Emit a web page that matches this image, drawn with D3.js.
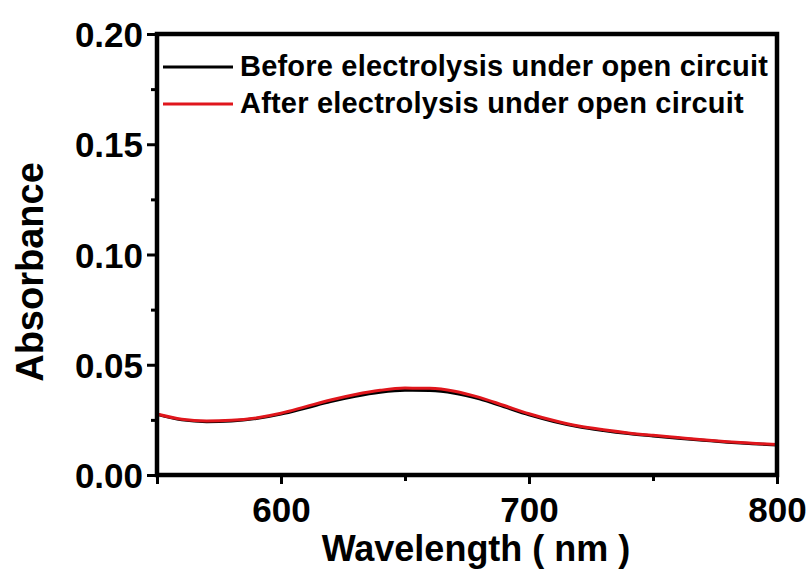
<!DOCTYPE html>
<html>
<head>
<meta charset="utf-8">
<script src="https://cdn.jsdelivr.net/npm/d3@7"></script>
<style>
  html, body { margin: 0; padding: 0; background: #fff; }
  svg { display: block; font-family: "Liberation Sans", Arial, sans-serif; font-weight: bold; }
</style>
</head>
<body>
<svg id="chart" width="812" height="572"></svg>
<script>
// UV-vis absorbance spectra, before and after electrolysis at open circuit
const wavelengths = [550, 560, 570, 580, 590, 600, 610, 620, 630, 640, 650, 660, 670,
                     680, 690, 700, 710, 720, 730, 740, 750, 760, 770, 780, 790, 800];
const beforeAbs = [0.0275, 0.0250, 0.0242, 0.0245, 0.0256, 0.0276, 0.0304, 0.0333, 0.0357,
                   0.0375, 0.0384, 0.0383, 0.0371, 0.0345, 0.0309, 0.0273, 0.0243, 0.0219,
                   0.0202, 0.0188, 0.0177, 0.0167, 0.0158, 0.0149, 0.0142, 0.0136];
const afterAbs = [0.0277, 0.0253, 0.0245, 0.0248, 0.0259, 0.0280, 0.0310, 0.0340, 0.0365,
                  0.0384, 0.0394, 0.0393, 0.0380, 0.0352, 0.0315, 0.0278, 0.0247, 0.0222,
                  0.0205, 0.0191, 0.0180, 0.0170, 0.0160, 0.0151, 0.0144, 0.0138];
const seriesNames = ["Before electrolysis under open circuit", "After electrolysis under open circuit"];
const seriesColors = ["#000000", "#e0161c"];
const xMajorTicks = [550, 600, 700, 800];
const xLabelTicks = [600, 700, 800];
const xMinorTicks = [650, 750];
const yMajorTicks = [0.00, 0.05, 0.10, 0.15, 0.20];
const yMinorTicks = [0.025, 0.075, 0.125, 0.175];
const xTitle = "Wavelength ( nm )";
const yTitle = "Absorbance";

const svg = d3.select("#chart");
const plot = { left: 157, right: 777, top: 34, bottom: 475 };

const x = d3.scaleLinear().domain([550, 800]).range([plot.left, plot.right]);
const y = d3.scaleLinear().domain([0, 0.20]).range([plot.bottom, plot.top]);

// curves
const series = [beforeAbs, afterAbs].map((vals, i) => ({
  name: seriesNames[i], color: seriesColors[i],
  points: wavelengths.map((w, j) => [w, vals[j]])
}));
const line = d3.line().x(d => x(d[0])).y(d => y(d[1])).curve(d3.curveMonotoneX);
svg.append("g").selectAll("path").data(series).join("path")
  .attr("d", d => line(d.points))
  .attr("fill", "none")
  .attr("stroke", d => d.color)
  .attr("stroke-width", 3)
  .attr("stroke-linejoin", "round");

// x axis (bottom), major with labels + minor
const xAxis = d3.axisBottom(x).tickValues(xMajorTicks).tickSize(9).tickPadding(13)
  .tickFormat(d => xLabelTicks.includes(d) ? d3.format("d")(d) : "");
const gx = svg.append("g").attr("transform", `translate(0,${plot.bottom})`).call(xAxis);
const gxm = svg.append("g").attr("transform", `translate(0,${plot.bottom})`)
  .call(d3.axisBottom(x).tickValues(xMinorTicks).tickSize(6).tickFormat(""));

// y axis (left)
const yAxis = d3.axisLeft(y).tickValues(yMajorTicks).tickSize(10).tickPadding(4)
  .tickFormat(d3.format(".2f"));
const gy = svg.append("g").attr("transform", `translate(${plot.left},0)`).call(yAxis);
const gym = svg.append("g").attr("transform", `translate(${plot.left},0)`)
  .call(d3.axisLeft(y).tickValues(yMinorTicks).tickSize(6).tickFormat(""));

[gx, gxm, gy, gym].forEach(g => {
  g.select(".domain").remove();
  g.selectAll(".tick line").attr("stroke", "#000").attr("stroke-width", 3);
  g.selectAll(".tick text").attr("fill", "#000")
    .style("font-size", "35px").style("font-weight", "bold")
    .style("font-family", "'Liberation Sans', Arial, sans-serif");
});
gy.selectAll(".tick text").attr("dy", "0.36em");

// frame
svg.append("rect")
  .attr("x", plot.left).attr("y", plot.top)
  .attr("width", plot.right - plot.left).attr("height", plot.bottom - plot.top)
  .attr("fill", "none").attr("stroke", "#000").attr("stroke-width", 4.5);

// axis titles
svg.append("text")
  .attr("x", 476).attr("y", 561)
  .attr("text-anchor", "middle")
  .style("font-size", "36px")
  .text(xTitle);
svg.append("text")
  .attr("transform", `translate(43,272) rotate(-90)`)
  .attr("text-anchor", "middle")
  .style("font-size", "38px")
  .text(yTitle);

// legend
const legend = svg.append("g").selectAll("g").data(series).join("g")
  .attr("transform", (d, i) => `translate(163,${67 + i * 37})`);
legend.append("line")
  .attr("x1", 0).attr("x2", 70)
  .attr("stroke", d => d.color).attr("stroke-width", 3);
legend.append("text")
  .attr("x", 77).attr("y", 9)
  .style("font-size", "29px")
  .style("letter-spacing", "0.2px")
  .text(d => d.name);
</script>
</body>
</html>
